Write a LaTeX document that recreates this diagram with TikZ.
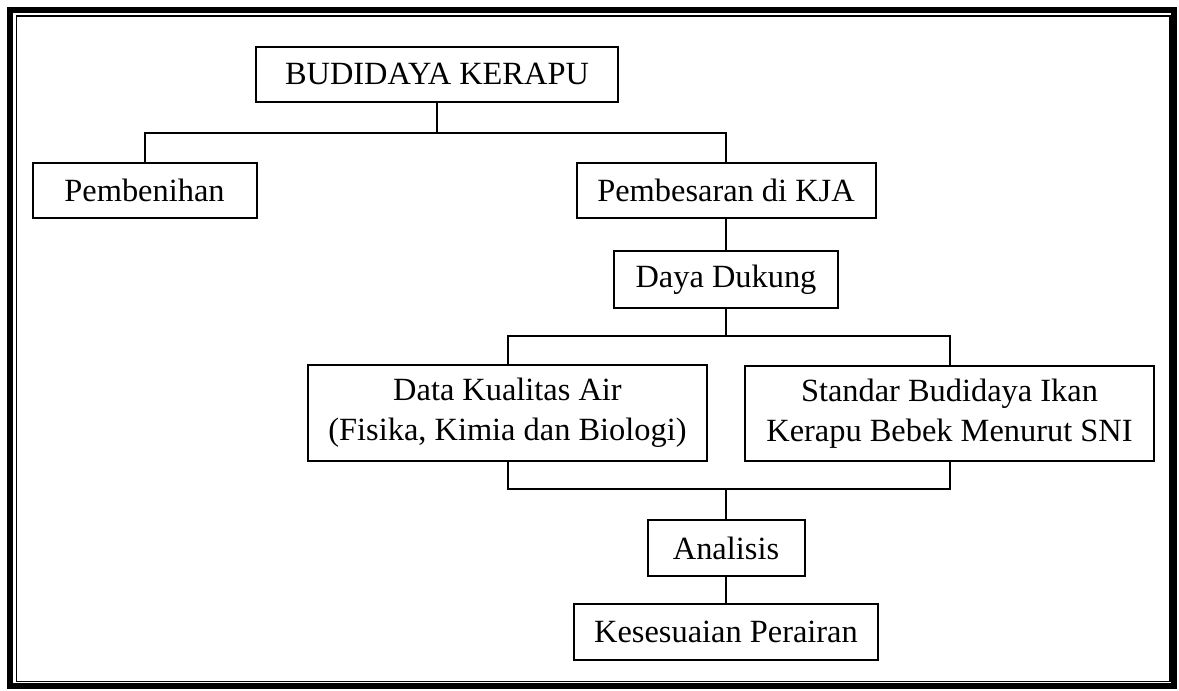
\documentclass[tikz,border=0pt]{standalone}
\usepackage{fontspec}
\setmainfont{Liberation Serif}
\begin{document}
\begin{tikzpicture}[x=0.5pt,y=-0.5pt,
  box/.style={draw,line width=1pt,inner sep=0pt,align=center,font=\fontsize{16.2}{20}\selectfont},
  link/.style={line width=1pt}]
\useasboundingbox (0,0) rectangle (1179,691);
% frame
\draw[line width=3pt] (9.5,9.5) rectangle (1173.5,686);
\draw[line width=0.8pt] (16.5,16) rectangle (1170,681.5);
% nodes
\node[box,minimum width=181pt,minimum height=27.5pt] (top) at (437,74.3) {BUDIDAYA KERAPU};
\node[box,minimum width=112pt,minimum height=27.5pt] (pemb1) at (144.5,190.4) {Pembenihan};
\node[box,minimum width=149.5pt,minimum height=27.5pt] (pemb2) at (726,190.5) {Pembesaran di KJA};
\node[box,minimum width=112pt,minimum height=28.3pt] (daya) at (726,279.3) {Daya Dukung};
\node[box,minimum width=199.5pt,minimum height=48pt] (data) at (507.5,413) {Data Kualitas Air\\(Fisika, Kimia dan Biologi)};
\node[box,minimum width=204.5pt,minimum height=47.7pt] (std) at (949.5,413.3) {Standar Budidaya Ikan\\Kerapu Bebek Menurut SNI};
\node[box,minimum width=78.5pt,minimum height=28pt] (ana) at (726,548) {Analisis};
\node[box,minimum width=152pt,minimum height=28pt] (kes) at (726,632) {Kesesuaian Perairan};
% junctions
\coordinate (j1) at (438,132.7);
\coordinate (j2) at (726,336);
\coordinate (j3) at (726,489);
% connectors
\draw[link] (top.south) -- (top.south |- j1);
\draw[link] (pemb1.north) |- (pemb2.north |- j1) -- (pemb2.north);
\draw[link] (pemb2.south) -- (daya.north);
\draw[link] (daya.south) -- (j2);
\draw[link] (data.north) |- (std.north |- j2) -- (std.north);
\draw[link] (data.south) |- (std.south |- j3) -- (std.south);
\draw[link] (j3) -- (ana.north);
\draw[link] (ana.south) -- (kes.north);
\end{tikzpicture}
\end{document}
